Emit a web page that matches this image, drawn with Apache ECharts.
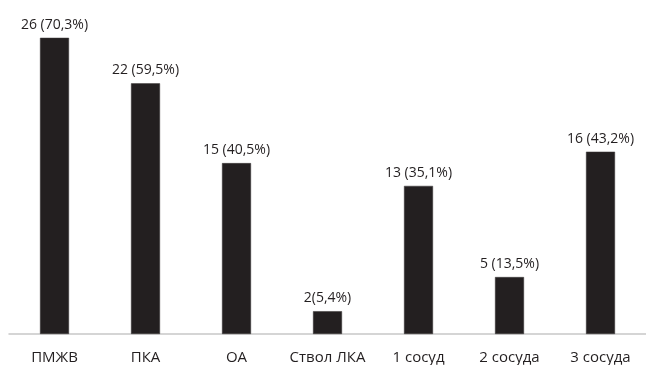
<!DOCTYPE html>
<html>
<head>
<meta charset="utf-8">
<script src="https://cdn.jsdelivr.net/npm/echarts@6/dist/echarts.min.js"></script>
<style>
  html, body { margin: 0; padding: 0; background: #fff; }
  #chart { width: 646px; height: 365px; }
</style>
</head>
<body>
<div id="chart"></div>
<script>
// Поражения коронарных артерий: число пациентов и доля
const categories = ['ПМЖВ', 'ПКА', 'ОА', 'Ствол ЛКА', '1 сосуд', '2 сосуда', '3 сосуда'];
const counts = [26, 22, 15, 2, 13, 5, 16];
const percents = ['70,3', '59,5', '40,5', '5,4', '35,1', '13,5', '43,2'];
const labelGaps = [' ', ' ', ' ', '', ' ', ' ', ' '];

const chart = echarts.init(document.getElementById('chart'));
const font = '"Open Sans", "Noto Sans", sans-serif';

chart.setOption({
  animation: false,
  grid: { left: 9, right: -3, top: 15, bottom: 31, containLabel: false },
  xAxis: {
    type: 'category',
    data: categories,
    axisLine: { lineStyle: { color: '#c8c8c8', width: 1.5 } },
    axisTick: { show: false },
    axisLabel: {
      interval: 0,
      hideOverlap: false,
      margin: 16,
      color: '#231f20',
      fontFamily: font,
      fontSize: 15
    }
  },
  yAxis: {
    type: 'value',
    min: 0,
    max: 28,
    show: false,
    splitLine: { show: false }
  },
  series: [{
    type: 'bar',
    data: counts,
    barWidth: 29,
    itemStyle: { color: '#231f20', borderColor: '#3a3637', borderWidth: 0.5 },
    label: {
      show: true,
      position: 'top',
      distance: 6,
      color: '#231f20',
      fontFamily: font,
      fontSize: 14,
      formatter: p => counts[p.dataIndex] + labelGaps[p.dataIndex] + '(' + percents[p.dataIndex] + '%)'
    }
  }]
});
</script>
</body>
</html>
